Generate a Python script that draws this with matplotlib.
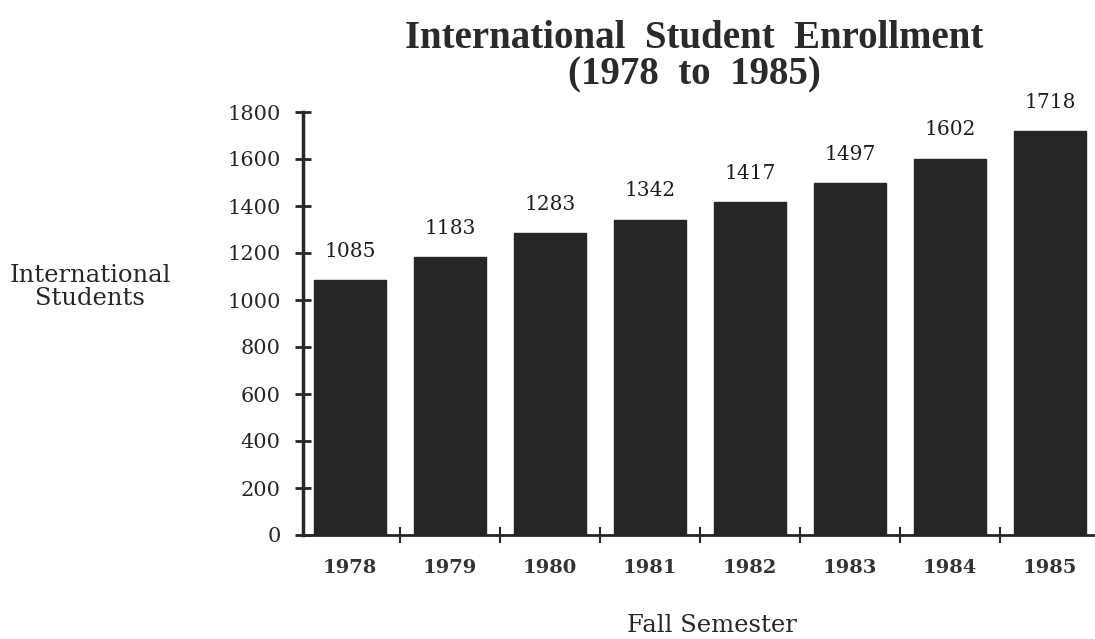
import matplotlib
matplotlib.use("Agg")
import matplotlib.pyplot as plt

years = ["1978", "1979", "1980", "1981", "1982", "1983", "1984", "1985"]
students = [1085, 1183, 1283, 1342, 1417, 1497, 1602, 1718]
yticks = [0, 200, 400, 600, 800, 1000, 1200, 1400, 1600, 1800]

plt.rcParams['font.family'] = ['DejaVu Serif']
ink = "#262626"

fig = plt.figure(figsize=(10.95, 6.39), dpi=100)
ax = fig.add_axes([303/1095, 1-535/639, 792/1095, (535-112)/639])

x = list(range(len(years)))
bars = ax.bar(x, students, width=0.72, color="#262626", edgecolor="#262626")
ax.bar_label(bars, labels=[str(v) for v in students], padding=14, fontsize=14.5, color="#1e1e1e")

ax.set_xlim(-0.47, 7.45)
ax.set_ylim(0, 1800)
ax.set_yticks(yticks)
ax.set_yticklabels([str(t) for t in yticks], fontsize=15, color=ink)
ax.set_xticks(x)
ax.set_xticklabels(years, fontsize=14, color="#333333", fontweight='semibold')
ax.tick_params(axis='x', length=0, pad=17)
ax.tick_params(axis='y', direction='inout', length=12, width=2, pad=10, color=ink)

# ticks on x at category boundaries
ax.set_xticks([i + 0.5 for i in range(len(years) - 1)], minor=True)
ax.tick_params(axis='x', which='minor', direction='inout', length=12, width=1.5, color=ink)

for s in ['top', 'right']:
    ax.spines[s].set_visible(False)
ax.spines['left'].set_linewidth(2.5)
ax.spines['bottom'].set_linewidth(2)
ax.spines['left'].set_color(ink)
ax.spines['bottom'].set_color(ink)

fig.text(694/1095, 1-38/639, "International  Student  Enrollment",
         ha='center', va='center', fontsize=28, fontweight='bold', color="#2a2a2a",
         family='Liberation Serif')
fig.text(694/1095, 1-75/639, "(1978  to  1985)",
         ha='center', va='center', fontsize=28, fontweight='bold', color="#2a2a2a",
         family='Liberation Serif')
fig.text(90/1095, 1-287/639, "International\nStudents", ha='center', va='center',
         fontsize=17.5, color=ink, linespacing=1.0)
fig.text(712/1095, 1-625/639, "Fall Semester", ha='center', va='center',
         fontsize=17.5, color=ink)

fig.savefig("out.png", dpi=100, facecolor="white")
